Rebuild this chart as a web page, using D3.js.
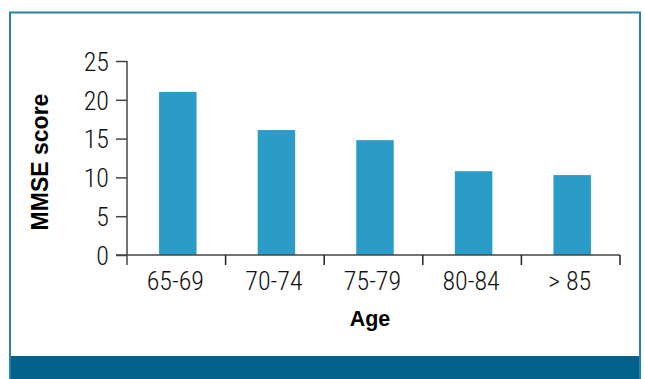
<!DOCTYPE html>
<html>
<head>
<meta charset="utf-8">
<script src="https://cdn.jsdelivr.net/npm/d3@7"></script>
<style>
  html, body { margin: 0; padding: 0; background: #fff; }
  svg { display: block; }
  .num { font-family: "Roboto Condensed", "DejaVu Sans Condensed", sans-serif; font-weight: 300; fill: #111; }
  .title { font-family: "Liberation Sans", Arial, sans-serif; font-weight: bold; fill: #000; }
</style>
</head>
<body>
<svg id="chart" width="645" height="379"></svg>
<script>
// Mean MMSE score by age group
const ageGroups = ["65-69", "70-74", "75-79", "80-84", "> 85"];
const mmseScores = [21, 16.1, 14.8, 10.8, 10.3];
const yTicks = [0, 5, 10, 15, 20, 25];

const svg = d3.select("#chart");
const W = 645, H = 379;

// Panel frame and footer band
svg.append("rect")
  .attr("x", 10).attr("y", 12.5)
  .attr("width", 630).attr("height", H - 12.5 + 2)
  .attr("fill", "#fff")
  .attr("stroke", "#2a82a8").attr("stroke-width", 2);
svg.append("rect")
  .attr("x", 11).attr("y", 356)
  .attr("width", 628).attr("height", H - 356)
  .attr("fill", "#02628a");

const x0 = 127, x1 = 620, yBase = 255, yTop = 61;

const x = d3.scaleBand()
  .domain(ageGroups)
  .range([x0, x1])
  .paddingInner(0.62)
  .paddingOuter(0.31);

const y = d3.scaleLinear().domain([0, 25]).range([yBase, yTop]);

// Bars
svg.append("g").selectAll("rect")
  .data(ageGroups)
  .join("rect")
  .attr("x", d => x(d) + 1.5)
  .attr("width", x.bandwidth())
  .attr("y", (d, i) => y(mmseScores[i]))
  .attr("height", (d, i) => yBase - y(mmseScores[i]))
  .attr("fill", "#2b9cc8");

// Y axis
const yAxis = svg.append("g")
  .attr("transform", `translate(${x0},0)`)
  .call(d3.axisLeft(y).tickValues(yTicks).tickSize(11).tickPadding(7));
yAxis.select(".domain").remove();
yAxis.selectAll(".tick line").attr("stroke", "#444").attr("stroke-width", 1.5);
yAxis.selectAll(".tick text")
  .attr("class", "num")
  .attr("font-size", 26)
  .attr("dy", "0.36em");
svg.append("line")
  .attr("x1", x0).attr("x2", x0)
  .attr("y1", yTop).attr("y2", yBase + 10)
  .attr("stroke", "#444").attr("stroke-width", 1.5);

// X axis: baseline with ticks at group boundaries
svg.append("line")
  .attr("x1", x0 - 11).attr("x2", x1)
  .attr("y1", yBase).attr("y2", yBase)
  .attr("stroke", "#444").attr("stroke-width", 1.5);
const step = x.step();
const bounds = ageGroups.map((d, i) => x0 + i * step).concat([x1]);
svg.append("g").selectAll("line")
  .data(bounds.slice(1))
  .join("line")
  .attr("x1", d => d).attr("x2", d => d)
  .attr("y1", yBase).attr("y2", yBase + 10)
  .attr("stroke", "#222").attr("stroke-width", 1.5);

svg.append("g").selectAll("text")
  .data(ageGroups)
  .join("text")
  .attr("class", "num")
  .attr("font-size", 26)
  .attr("text-anchor", "middle")
  .attr("x", (d, i) => x0 + (i + 0.5) * step - 1)
  .attr("y", 290)
  .text(d => d);

// Axis titles
svg.append("text")
  .attr("class", "title")
  .attr("font-size", 21.5)
  .attr("text-anchor", "middle")
  .attr("x", 370).attr("y", 326)
  .text("Age");

svg.append("text")
  .attr("class", "title")
  .attr("font-size", 23)
  .attr("text-anchor", "middle")
  .attr("transform", "translate(47.5,162) rotate(-90)")
  .text("MMSE score");
</script>
</body>
</html>
